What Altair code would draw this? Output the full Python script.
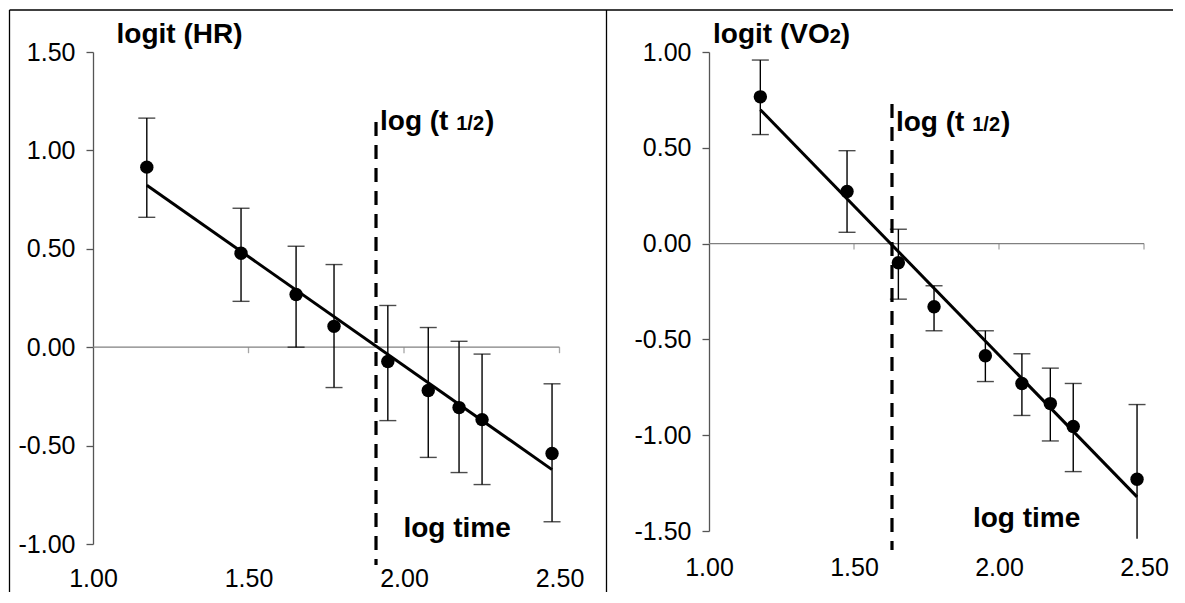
import altair as alt
import pandas as pd

FONT = "Liberation Sans"

# ---------------- data: left panel, logit(HR) vs log time ----------------
hr_logt = [1.173, 1.476, 1.653, 1.775, 1.948, 2.078, 2.177, 2.251, 2.476]
hr_logit = [0.915, 0.477, 0.268, 0.106, -0.073, -0.220, -0.307, -0.368, -0.540]
hr_hi = [1.164, 0.706, 0.513, 0.420, 0.212, 0.100, 0.030, -0.035, -0.186]
hr_lo = [0.660, 0.233, 0.000, -0.205, -0.373, -0.560, -0.637, -0.698, -0.887]
hr_fit_x = [1.173, 2.476]
hr_fit_y = [0.823, -0.622]
hr_thalf = 1.91
hr_dash_y = [1.144, -1.107]
hr_yticks = [-1.0, -0.5, 0.0, 0.5, 1.0, 1.5]
hr_ydomain = [-1.0, 1.5]

# ---------------- data: right panel, logit(VO2) vs log time ----------------
vo_logt = [1.177, 1.476, 1.653, 1.776, 1.953, 2.079, 2.177, 2.256, 2.476]
vo_logit = [0.766, 0.272, -0.100, -0.330, -0.585, -0.730, -0.835, -0.955, -1.230]
vo_hi = [0.958, 0.485, 0.075, -0.220, -0.455, -0.575, -0.650, -0.730, -0.840]
vo_lo = [0.569, 0.059, -0.290, -0.455, -0.720, -0.897, -1.030, -1.190, -1.540]
vo_fit_x = [1.177, 2.476]
vo_fit_y = [0.699, -1.322]
vo_thalf = 1.631
vo_dash_y = [0.729, -1.599]
vo_yticks = [-1.5, -1.0, -0.5, 0.0, 0.5, 1.0]
vo_ydomain = [-1.5, 1.0]

x_ticks = [1.0, 1.5, 2.0, 2.5]

# label anchors (data coordinates)
hr_title_xy = [1.0756, 1.546]
hr_thalf_label_y = 1.104
hr_logtime_xy = [1.998, -0.964]
vo_title_xy = [1.014, 1.047]
vo_thalf_label_y = 0.588
vo_logtime_xy = [1.910, -1.479]

BOLD_W = {"l": 0.278, "o": 0.611, "g": 0.611, "i": 0.278, "t": 0.333, " ": 0.278,
          "(": 0.333, ")": 0.333, "H": 0.722, "R": 0.722, "V": 0.667, "O": 0.778,
          "1": 0.556, "/": 0.278, "2": 0.556, "m": 0.889, "e": 0.556}


def tw(s, size):
    return sum(BOLD_W.get(c, 0.556) for c in s) * size


BIG = 28
SMALL = 20
TICKFS = 25
LABEL_EXPR = "replace(format(datum.value, '.2f'), '\u2212', '-')"


def panel(xs, ys, lo, hi, fx, fy, th, dash_y, yticks, ydom, width, height,
          xlabpad, title_xy, title_parts, th_label_y, logtime_xy, frame=False):
    xsc = alt.Scale(domain=[1.0, 2.5], nice=False, zero=False)
    ysc = alt.Scale(domain=ydom, nice=False, zero=False)
    xaxis = alt.Axis(values=x_ticks, labelExpr=LABEL_EXPR, grid=False, domain=False, ticks=False,
                     tickSize=0, labelPadding=xlabpad, labelFlush=False, labelOverlap=False,
                     labelFont=FONT, labelFontSize=TICKFS, labelColor="black", title=None)
    yaxis = alt.Axis(values=yticks, labelExpr=LABEL_EXPR, grid=False, domainColor="#555555",
                     domainWidth=1.3, tickColor="#555555", tickWidth=1.3, tickSize=7,
                     labelPadding=11, labelFlush=False, labelOverlap=False,
                     labelFont=FONT, labelFontSize=TICKFS, labelColor="black", title=None)
    X = alt.X("x:Q", scale=xsc, axis=xaxis)
    Y = alt.Y("y:Q", scale=ysc, axis=yaxis)
    Y2 = alt.Y2("y2:Q")

    pts = pd.DataFrame({"x": xs, "y": ys})
    bars = pd.DataFrame({"x": xs, "y": lo, "y2": hi})
    caps = pd.DataFrame({"x": xs + xs, "y": lo + hi})
    fit = pd.DataFrame({"x": fx, "y": fy})
    dash = pd.DataFrame({"x": [th], "y": [dash_y[0]], "y2": [dash_y[1]]})
    zero = pd.DataFrame({"y": [0.0]})
    zticks = pd.DataFrame({"x": x_ticks[1:], "y": [0.0] * (len(x_ticks) - 1)})

    layers = []
    if frame:
        one = pd.DataFrame({"k": [0]})
        fr = alt.Chart(one).mark_rule(color="black", strokeWidth=1.3)
        layers += [
            fr.encode(x=alt.value(-83.5), x2=alt.value(1080), y=alt.value(-42)),
            fr.encode(x=alt.value(-83.5), y=alt.value(-42), y2=alt.value(540)),
            fr.encode(x=alt.value(513.5), y=alt.value(-42), y2=alt.value(540)),
        ]
    layers += [
        alt.Chart(zero).mark_rule(color="#808080", strokeWidth=1.3).encode(y=Y),
        alt.Chart(zticks).mark_tick(orient="vertical", size=6, thickness=1.3,
                                    yOffset=3, color="#808080").encode(x=X, y=Y),
        alt.Chart(dash).mark_rule(color="black", strokeWidth=3.2,
                                  strokeDash=[14, 9]).encode(x=X, y=Y, y2=Y2),
        alt.Chart(bars).mark_rule(color="black", strokeWidth=1.4).encode(x=X, y=Y, y2=Y2),
        alt.Chart(caps).transform_filter(alt.datum.y >= ydom[0]).mark_tick(
            orient="horizontal", size=17, thickness=1.4, color="black").encode(x=X, y=Y),
        alt.Chart(fit).mark_line(color="black", strokeWidth=3).encode(x=X, y=Y),
        alt.Chart(pts).mark_circle(size=180, color="black", opacity=1).encode(x=X, y=Y),
    ]

    def txt(x, y, label, size, dx=0):
        return alt.Chart(pd.DataFrame({"x": [x], "y": [y], "t": [label]})).mark_text(
            align="left", baseline="alphabetic", font=FONT, fontSize=size,
            fontWeight="bold", color="black", dx=dx).encode(x=X, y=Y, text="t:N")

    dx = 0
    for s, size in title_parts:
        layers.append(txt(title_xy[0], title_xy[1], s, size, dx))
        dx += tw(s, size)
    dx = 4
    for s, size in [("log (t ", BIG), ("1/2", SMALL), (")", BIG)]:
        layers.append(txt(th, th_label_y, s, size, dx))
        dx += tw(s, size) + (1 if size == SMALL else 0)
    layers.append(txt(logtime_xy[0], logtime_xy[1], "log time", BIG))

    return alt.layer(*layers).properties(width=width, height=height)


left = panel(hr_logt, hr_logit, hr_lo, hr_hi, hr_fit_x, hr_fit_y, hr_thalf, hr_dash_y,
             hr_yticks, hr_ydomain, 466.5, 492, 22, hr_title_xy,
             [("logit (HR)", BIG)], hr_thalf_label_y, hr_logtime_xy, frame=True)
right = panel(vo_logt, vo_logit, vo_lo, vo_hi, vo_fit_x, vo_fit_y, vo_thalf, vo_dash_y,
              vo_yticks, vo_ydomain, 435, 479, 24, vo_title_xy,
              [("logit (VO", BIG), ("2", SMALL), (")", BIG)], vo_thalf_label_y, vo_logtime_xy)

chart = alt.hconcat(left, right, spacing=149, bounds="flush",
                    padding={"left": 0, "top": 0, "right": 0, "bottom": 4}).configure_view(
    stroke="transparent")

chart.save("out.html", embed_options={"renderer": "svg", "actions": False})
